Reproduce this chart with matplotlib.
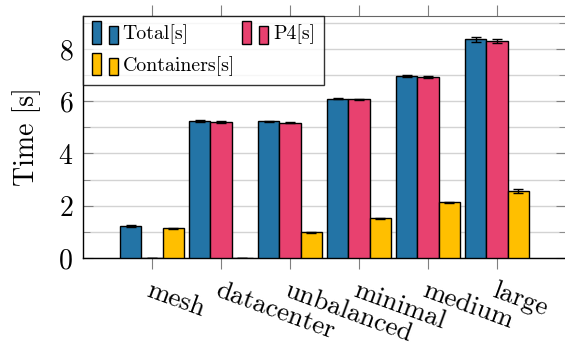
import numpy as np
import matplotlib
matplotlib.use("Agg")
import matplotlib.pyplot as plt
from matplotlib.patches import Rectangle
from matplotlib.legend_handler import HandlerBase
from matplotlib.ticker import MultipleLocator
from matplotlib.transforms import ScaledTranslation

plt.rcParams['font.family'] = 'serif'
plt.rcParams['font.serif'] = ['cmr10', 'DejaVu Serif']
plt.rcParams['mathtext.fontset'] = 'cm'
plt.rcParams['axes.formatter.use_mathtext'] = True

topologies = ['mesh', 'datacenter', 'unbalanced', 'minimal', 'medium', 'large']
total = [1.22, 5.25, 5.23, 6.10, 6.97, 8.36]
total_err = [0.03, 0.03, 0.03, 0.03, 0.03, 0.09]
p4 = [0.0, 5.21, 5.18, 6.07, 6.93, 8.29]
p4_err = [0.0, 0.03, 0.03, 0.03, 0.03, 0.07]
containers = [1.13, 0.0, 0.98, 1.52, 2.13, 2.56]
containers_err = [0.03, 0.0, 0.02, 0.02, 0.02, 0.08]

c_total = '#2374a6'
c_p4 = '#e8416f'
c_cont = '#ffbf00'


class TwoBarHandler(HandlerBase):
    # pgfplots-style ybar legend image: two little bars
    def create_artists(self, legend, orig_handle, xdescent, ydescent,
                       width, height, fontsize, trans):
        fc = orig_handle.get_facecolor()
        w = width * 0.36
        y0 = -ydescent - 0.3 * height
        r1 = Rectangle((-xdescent, y0), w, height * 1.6, facecolor=fc,
                       edgecolor='black', linewidth=1, transform=trans)
        r2 = Rectangle((-xdescent + width * 0.66, y0), w, height * 1.25,
                       facecolor=fc, edgecolor='black', linewidth=1,
                       transform=trans)
        return [r1, r2]


fig = plt.figure(figsize=(5.65, 3.49), dpi=100)
ax = fig.add_axes([83 / 565, 91 / 349, 483 / 565, 242.3 / 349])

x = np.arange(len(topologies))
bw = 0.305
err_kw = dict(ecolor='black', elinewidth=1, capsize=3.5, capthick=1)
b1 = ax.bar(x - bw, total, bw, yerr=total_err, color=c_total,
            edgecolor='black', linewidth=1, error_kw=err_kw, zorder=3)
b2 = ax.bar(x, p4, bw, yerr=p4_err, color=c_p4,
            edgecolor='black', linewidth=1, error_kw=err_kw, zorder=3)
b3 = ax.bar(x + bw, containers, bw, yerr=containers_err, color=c_cont,
            edgecolor='black', linewidth=1, error_kw=err_kw, zorder=3)

ax.set_xlim(-1, 6)
ax.set_ylim(0, 9.27)
ax.yaxis.set_major_locator(MultipleLocator(2))
ax.yaxis.set_minor_locator(MultipleLocator(1))
ax.grid(axis='y', which='both', color='#d3d3d3', linewidth=1, zorder=0)
ax.set_axisbelow(True)

ax.set_xticks(x)
ax.set_xticklabels(topologies, rotation=-20, ha='left', va='top',
                   rotation_mode='anchor', fontsize=19.5)
shift = ScaledTranslation(6 / 100, 0, fig.dpi_scale_trans)
for lbl in ax.get_xticklabels():
    lbl.set_transform(lbl.get_transform() + shift)
ax.tick_params(axis='x', which='both', direction='out', length=8,
               color='#808080', top=True, pad=7)
ax.tick_params(axis='y', which='major', direction='in', length=7,
               color='#808080', right=True, labelsize=20, pad=7)
ax.tick_params(axis='y', which='minor', direction='in', length=5,
               color='#808080', right=True)
ax.set_ylabel('Time [s]', fontsize=20, labelpad=12)

for side in ['left', 'bottom']:
    ax.spines[side].set_color('black')
    ax.spines[side].set_linewidth(1)
ax.spines['top'].set_color('#666666')
ax.spines['right'].set_color('#666666')

leg = ax.legend([b1.patches[0], b3.patches[0], b2.patches[0]],
                ['Total[s]', 'Containers[s]', 'P4[s]'],
                handler_map={Rectangle: TwoBarHandler()},
                loc='upper left', ncol=2, fontsize=14.3, frameon=True,
                fancybox=False, borderaxespad=0, handlelength=1.3,
                handletextpad=0.25, columnspacing=0.35, labelspacing=0.6,
                borderpad=0.45)
leg.get_frame().set_edgecolor('black')
leg.get_frame().set_linewidth(1)
leg.set_zorder(5)

fig.savefig('out.png', dpi=100)
